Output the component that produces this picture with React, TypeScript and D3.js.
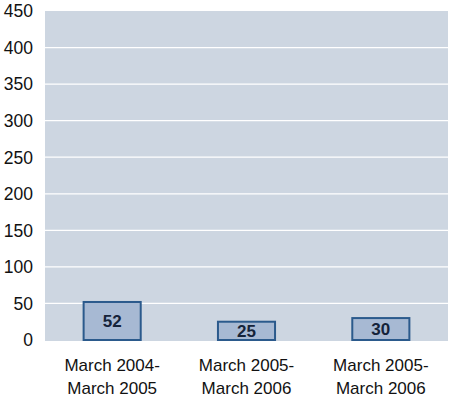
import React from "react";
import * as d3 from "d3";

const categories = [
  ["March 2004-", "March 2005"],
  ["March 2005-", "March 2006"],
  ["March 2005-", "March 2006"],
];
const values = [52, 25, 30];
const yTicks = [0, 50, 100, 150, 200, 250, 300, 350, 400, 450];

export default function App() {
  const W = 452, H = 401;
  const left = 45, right = 448, top = 11, bottom = 340;
  const x = d3.scaleBand<number>().domain(d3.range(values.length)).range([left, right]).paddingInner(0.575).paddingOuter(0.2875);
  const y = d3.scaleLinear().domain([0, 450]).range([bottom, top]);
  const font = "'Liberation Sans', Arial, sans-serif";
  return (
    <svg width={W} height={H} style={{ position: "absolute", left: 0, top: 0 }}>
      <rect x={0} y={0} width={W} height={H} fill="#fff" />
      <rect x={left} y={top} width={right - left} height={bottom - top + 1} fill="#cdd6e1" />
      {yTicks.filter(t => t > 0 && t < 450).map(t => (
        <line key={t} x1={left} x2={right} y1={y(t)} y2={y(t)} stroke="#fff" strokeWidth={1.3} />
      ))}
      {yTicks.map(t => (
        <text key={t} x={33} y={y(t)} dy="0.36em" textAnchor="end" fontFamily={font} fontSize={17.5} fill="#111">{t}</text>
      ))}
      {values.map((v, i) => (
        <g key={i}>
          <rect x={x(i)!} y={y(v)} width={x.bandwidth()} height={bottom - y(v)} fill="#a7b9d3" stroke="#2b5a8c" strokeWidth={2} />
          <text x={x(i)! + x.bandwidth() / 2} y={(y(v) + bottom) / 2} dy="0.36em" textAnchor="middle" fontFamily={font} fontSize={17} fontWeight="bold" fill="#15233a">{v}</text>
        </g>
      ))}
      {categories.map((c, i) => (
        <text key={i} x={x(i)! + x.bandwidth() / 2} textAnchor="middle" fontFamily={font} fontSize={17} fill="#111">
          <tspan x={x(i)! + x.bandwidth() / 2} y={371}>{c[0]}</tspan>
          <tspan x={x(i)! + x.bandwidth() / 2} y={394}>{c[1]}</tspan>
        </text>
      ))}
    </svg>
  );
}
